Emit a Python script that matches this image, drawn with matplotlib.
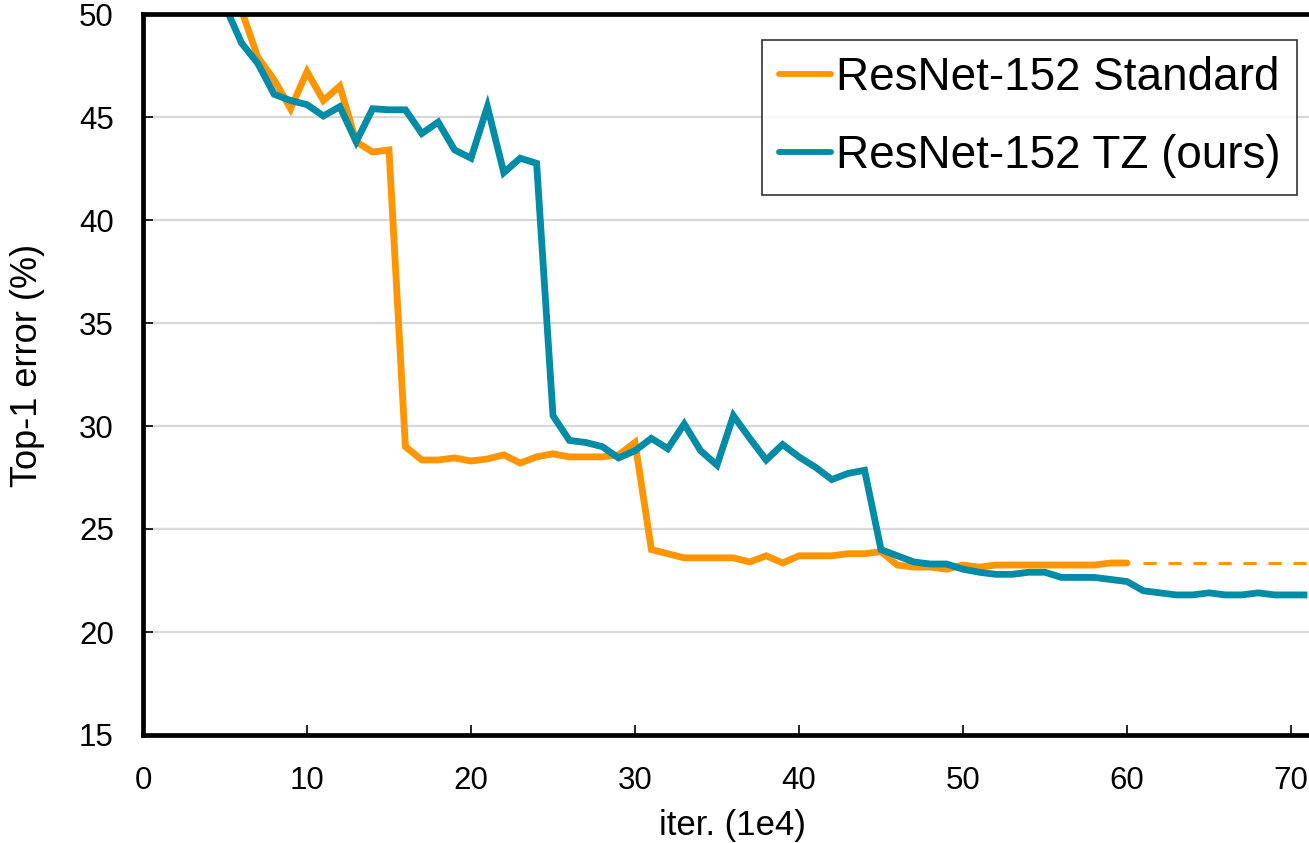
import matplotlib
matplotlib.use("Agg")
import matplotlib.pyplot as plt
import numpy as np

# ---- data ----
std_x = list(range(5, 61))
std_y = [53.0, 50.2, 47.9, 46.8, 45.4, 47.2, 45.8, 46.5, 43.8, 43.3, 43.4,
         29.0, 28.35, 28.35, 28.45, 28.3, 28.4, 28.6, 28.2, 28.5, 28.65, 28.5,
         28.5, 28.5, 28.6, 29.2,
         24.0, 23.8, 23.6, 23.6, 23.6, 23.6, 23.4, 23.7, 23.35, 23.7, 23.7, 23.7,
         23.8, 23.8, 23.9,
         23.25, 23.15, 23.15, 23.05, 23.25, 23.15, 23.25, 23.25, 23.25, 23.25,
         23.25, 23.25, 23.25, 23.35, 23.35]

tz_x = list(range(5, 72))
tz_y = [50.4, 48.6, 47.6, 46.1, 45.8, 45.6, 45.05, 45.5, 43.8, 45.4, 45.35,
        45.35, 44.2, 44.75, 43.4, 43.0, 45.5, 42.3, 43.0, 42.75,
        30.5, 29.3, 29.2, 29.0, 28.45, 28.8, 29.4, 28.9, 30.1, 28.8, 28.1,
        30.5, 29.4, 28.35, 29.1, 28.5, 28.0, 27.4, 27.7, 27.85,
        24.0, 23.7, 23.4, 23.3, 23.3, 23.05, 22.9, 22.8, 22.8, 22.9, 22.9,
        22.65, 22.65, 22.65, 22.55, 22.45, 22.0, 21.9, 21.8, 21.8, 21.9,
        21.8, 21.8, 21.9, 21.8, 21.8, 21.8]

labels = ["ResNet-152 Standard", "ResNet-152 TZ (ours)"]
xticks = [0, 10, 20, 30, 40, 50, 60, 70]
yticks = [15, 20, 25, 30, 35, 40, 45, 50]

orange = "#FF9500"
teal = "#008BA6"

plt.rcParams['font.family'] = ['Liberation Sans', 'DejaVu Sans']
plt.rcParams['lines.scale_dashes'] = False

W, H = 1309, 843
fig = plt.figure(figsize=(W / 100, H / 100), dpi=100)
x0, x1 = 143, W
y_top, y_bot = 14, 735
ax = fig.add_axes([x0 / W, 1 - y_bot / H, (x1 - x0) / W, (y_bot - y_top) / H])

xmax = (x1 - x0) / 16.4
ax.set_xlim(0, xmax)
ax.set_ylim(15, 50)

for y in yticks[1:-1]:
    ax.axhline(y, color="#d9d9d9", lw=1.6, zorder=0)

ax.plot(std_x, std_y, color=orange, lw=4.9, solid_joinstyle='miter',
        solid_capstyle='round', label=labels[0], zorder=3)
ax.plot(tz_x, tz_y, color=teal, lw=4.9, solid_joinstyle='miter',
        solid_capstyle='butt', label=labels[1], zorder=4)
ax.plot([std_x[-1] + 1, xmax + 1], [std_y[-1], std_y[-1]], color=orange, lw=2.2,
        linestyle=(0, (9.5, 8.5)), zorder=3)

ax.set_xticks(xticks)
ax.set_yticks(yticks)
ax.tick_params(direction='in', length=7, width=1.2, labelsize=22.5)
ax.tick_params(axis='x', pad=22)
ax.tick_params(axis='y', pad=21)
for s in ['left', 'bottom', 'top']:
    ax.spines[s].set_linewidth(3.4)
    ax.spines[s].set_color('black')
ax.spines['right'].set_visible(False)
ax.spines['top'].set_zorder(10)

fig.text(732 / W, 1 - 825 / H, "iter. (1e4)", fontsize=25, ha='center', va='center')
fig.text(28 / W, 1 - 365 / H, "Top-1 error (%)", fontsize=26, ha='center', va='center',
         rotation=90)

leg = ax.legend(loc='upper right', bbox_to_anchor=(1297 / W, 1 - 40 / H),
                bbox_transform=fig.transFigure, fontsize=33, frameon=True,
                fancybox=False, edgecolor='black', handlelength=1.15,
                handletextpad=0.1, borderpad=0.36, labelspacing=0.74,
                borderaxespad=0)
leg.get_frame().set_linewidth(1.2)
for ln in leg.get_lines():
    ln.set_linewidth(4.2)
    ln.set_solid_capstyle('round')

fig.savefig("out.png", dpi=100)
